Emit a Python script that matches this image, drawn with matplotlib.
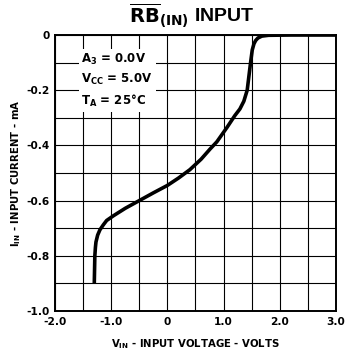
import numpy as np
import matplotlib.pyplot as plt

# fonts
plt.rcParams['font.family'] = ['Liberation Sans Narrow', 'DejaVu Sans']
plt.rcParams['font.weight'] = 'bold'
plt.rcParams['axes.labelweight'] = 'bold'
plt.rcParams['mathtext.fontset'] = 'custom'
plt.rcParams['mathtext.rm'] = 'Liberation Sans Narrow:bold'
plt.rcParams['mathtext.bf'] = 'Liberation Sans Narrow:bold'
plt.rcParams['mathtext.it'] = 'Liberation Sans Narrow:bold'

# curve (volts, mA)
v_in = [-1.30, -1.29, -1.28, -1.27, -1.24, -1.20, -1.14, -1.08, -0.96, -0.75,
        -0.50, -0.25, 0.0, 0.20, 0.40, 0.60, 0.76, 0.88, 1.06, 1.20,
        1.29, 1.36, 1.42, 1.45, 1.48, 1.51, 1.54, 1.57, 1.61, 1.68, 1.80, 2.2, 3.0]
i_in = [-0.90, -0.80, -0.77, -0.75, -0.725, -0.706, -0.688, -0.672, -0.655, -0.628,
        -0.600, -0.572, -0.545, -0.518, -0.488, -0.450, -0.413, -0.387, -0.335, -0.292,
        -0.268, -0.240, -0.200, -0.150, -0.100, -0.054, -0.032, -0.020, -0.011, -0.004, -0.001, 0.0, 0.0]

x_ticks = [-2.0, -1.0, 0.0, 1.0, 2.0, 3.0]
x_tick_labels = ['-2.0', '-1.0', '0', '1.0', '2.0', '3.0']
y_ticks = [0.0, -0.2, -0.4, -0.6, -0.8, -1.0]
y_tick_labels = ['0', '-0.2', '-0.4', '-0.6', '-0.8', '-1.0']

fig = plt.figure(figsize=(3.59, 3.61), dpi=100)
ax = fig.add_axes([0.153, 0.1385, 0.783, 0.7645])

ax.set_xlim(-2.0, 3.0)
ax.set_ylim(-1.0, 0.0)
ax.set_xticks(np.arange(-2.0, 3.01, 0.5), minor=True)
ax.set_yticks(np.arange(-1.0, 0.01, 0.1), minor=True)
ax.set_xticks(x_ticks)
ax.set_xticklabels(x_tick_labels)
ax.set_yticks(y_ticks)
ax.set_yticklabels(y_tick_labels)
ax.tick_params(which='both', length=0, labelsize=7.6, pad=4)
ax.grid(which='both', color='black', linewidth=0.8)
for s in ax.spines.values():
    s.set_linewidth(1.4)

ax.plot(v_in, i_in, color='black', linewidth=2.6, solid_capstyle='butt',
        solid_joinstyle='round', zorder=3)

# conditions box
ax.text(-1.53, -0.06, r'A$_3$ = 0.0V' + '\n' + r'V$_{CC}$ = 5.0V' + '\n' + r'T$_A$ = 25°C',
        fontsize=8.5, va='top', ha='left', linespacing=1.5,
        bbox=dict(facecolor='white', edgecolor='none', pad=2), zorder=4)

ax.set_xlabel(r'V$_{IN}$ - INPUT VOLTAGE - VOLTS', fontsize=7.3, labelpad=8)
ax.set_ylabel(r'I$_{IN}$ - INPUT CURRENT - mA', fontsize=7.3, labelpad=2)
fig.text(0.535, 0.955, r'$\overline{\mathrm{RB}}_{\mathrm{(IN)}}$ INPUT', fontsize=14,
         ha='center', va='center', family=['Liberation Sans', 'DejaVu Sans'], weight='bold')

fig.savefig('out.png', dpi=100)
